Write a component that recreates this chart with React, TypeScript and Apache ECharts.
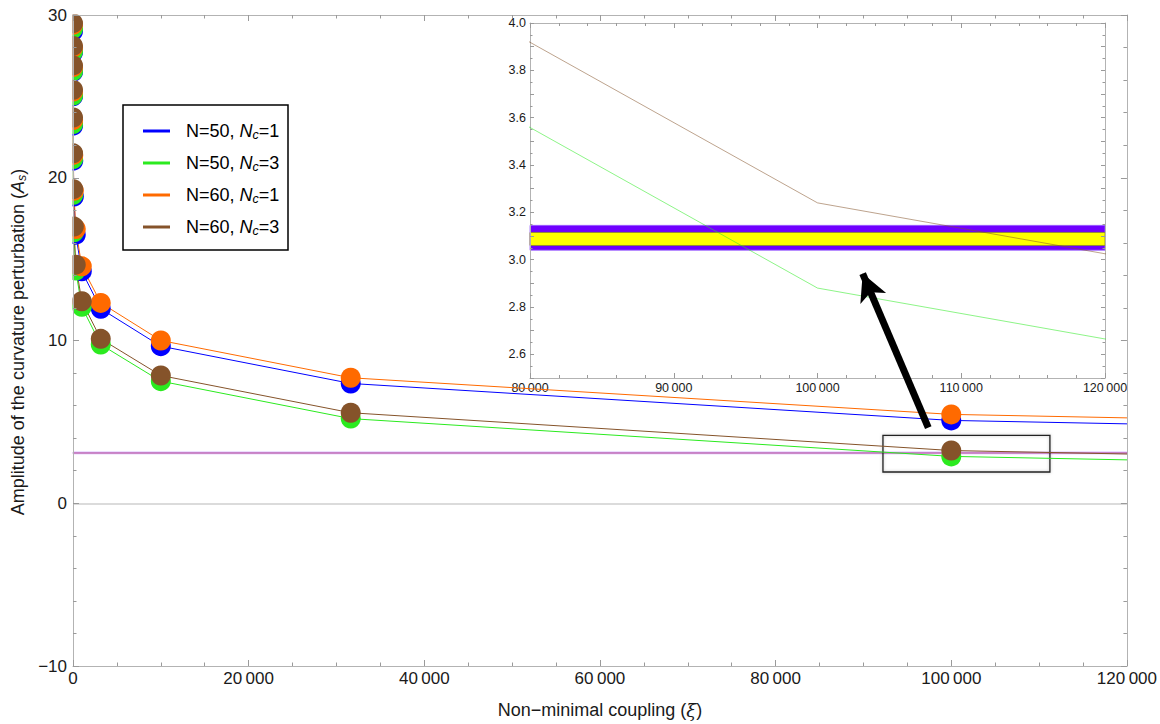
import React, { useEffect, useRef } from 'react';
import * as echarts from 'echarts';

// ---------- data ----------
const xiValues = [0.01, 0.0316, 0.1, 0.316, 1, 3.16, 10, 31.6, 100, 316, 1000, 3162, 10000, 31623, 100000, 316228];
const seriesNames = ['N=50, Nc=1', 'N=50, Nc=3', 'N=60, Nc=1', 'N=60, Nc=3'];
const asN50Nc1 = [31.3, 30.2, 29.0, 27.7, 26.5, 25.0, 23.2, 21.05, 18.85, 16.5, 14.25, 11.95, 9.65, 7.36, 5.09, 2.8];
const asN50Nc3 = [30.3, 29.15, 27.75, 26.55, 25.05, 23.3, 21.15, 18.95, 16.65, 14.3, 12.07, 9.75, 7.5, 5.2, 2.88, 0.555];
const asN60Nc1 = [31.6, 30.5, 29.4, 28.0, 26.8, 25.3, 23.55, 21.4, 19.2, 16.85, 14.56, 12.31, 10.0, 7.71, 5.46, 3.15];
const asN60Nc3 = [30.6, 29.5, 28.1, 26.9, 25.4, 23.7, 21.5, 19.3, 17.0, 14.66, 12.41, 10.1, 7.85, 5.56, 3.24, 0.915];
const seriesColors = ['#0000ff', '#2bea1f', '#ff6a00', '#85532a'];

// observational band for A_s (outer and inner)
const bandOuter = [3.04, 3.145];
const bandInner = [3.06, 3.115];

// axes ranges [min, max, interval]
const mainX = [0, 120000, 20000];
const mainY = [-10, 30, 10];
const insetX = [80000, 120000, 10000];
const insetY = [2.5, 4.0, 0.1];

// annotations in data units of the main plot
const zoomBoxX = [92220, 111230];
const zoomBoxY = [1.92, 4.17];
const arrowFrom = [97380, 4.64];
const arrowTo = [89910, 14.11];

const FONT = 'Liberation Sans, Arial, Helvetica, sans-serif';
const FRAME = '#b3b3b3';
const TICK = '#9a9a9a';

const fmtThousands = (v: number) =>
  String(Math.round(v)).replace(/\B(?=(\d{3})+(?!\d))/g, '\u2009');

const pairs = (ys: number[]) => xiValues.map((x, i) => [x, ys[i]]);

export default function App() {
  const ref = useRef<HTMLDivElement>(null);
  useEffect(() => {
    if (!ref.current) return;
    const chart = echarts.init(ref.current, undefined, { renderer: 'svg' });
    const allValues = [asN50Nc1, asN50Nc3, asN60Nc1, asN60Nc3];

    const frameAxis = (extra: any) => ({
      axisLine: { show: true, onZero: false, lineStyle: { color: FRAME, width: 1 } },
      axisTick: { show: true, inside: true, length: 6, lineStyle: { color: TICK } },
      splitLine: { show: false },
      ...extra,
    });

    const mainSeries = allValues.map((vals, i) => ({
      name: seriesNames[i],
      type: 'line',
      xAxisIndex: 0,
      yAxisIndex: 0,
      data: pairs(vals),
      symbol: 'circle',
      symbolSize: 20,
      showSymbol: true,
      clip: true,
      z: 2,
      lineStyle: { color: seriesColors[i], width: 1 },
      itemStyle: { color: seriesColors[i] },
      emphasis: { disabled: true },
    }));

    const insetSeries = [1, 3].map((i) => ({
      name: 'inset ' + seriesNames[i],
      type: 'line',
      xAxisIndex: 2,
      yAxisIndex: 2,
      data: pairs(allValues[i]),
      symbol: 'none',
      showSymbol: false,
      clip: true,
      z: 2,
      lineStyle: { color: seriesColors[i], width: 0.9, opacity: 0.6 },
      itemStyle: { color: seriesColors[i] },
      emphasis: { disabled: true },
    }));

    const subRich = {
      t: { fontSize: 18, fontFamily: FONT, color: '#000', lineHeight: 20 },
      i: { fontSize: 18, fontFamily: FONT, color: '#000', fontStyle: 'italic', lineHeight: 20 },
      s: { fontSize: 12.5, fontFamily: FONT, color: '#000', fontStyle: 'italic', lineHeight: 12, verticalAlign: 'bottom' },
    };

    const option: any = {
      animation: false,
      backgroundColor: '#fff',
      textStyle: { fontFamily: FONT },
      grid: [
        { left: 73, top: 15, right: 33, bottom: 57, show: false },
        { left: 530, top: 23, right: 55, bottom: 346, show: true, backgroundColor: '#fff', borderWidth: 0, z: 1 },
      ],
      xAxis: [
        frameAxis({
          type: 'value', gridIndex: 0, position: 'bottom', min: mainX[0], max: mainX[1], interval: mainX[2], z: 7,
          minorTick: { show: true, splitNumber: 4, length: 3.5, lineStyle: { color: TICK } },
          axisLabel: { show: true, color: '#1a1a1a', fontSize: 17, fontFamily: FONT, margin: 4, formatter: (v: number) => fmtThousands(v) },
          name: '{t|Non\u2212minimal coupling (}{i|\u03be}{t|)}',
          nameLocation: 'middle',
          nameGap: 35,
          nameTextStyle: {
            rich: {
              t: { fontSize: 18, fontFamily: FONT, color: '#1a1a1a' },
              i: { fontSize: 18, fontFamily: 'DejaVu Serif, serif', fontStyle: 'italic', color: '#1a1a1a' },
            },
          },
        }),
        frameAxis({
          type: 'value', gridIndex: 0, position: 'top', min: mainX[0], max: mainX[1], interval: mainX[2], z: 7,
          minorTick: { show: true, splitNumber: 4, length: 3.5, lineStyle: { color: TICK } },
          axisLabel: { show: false },
        }),
        frameAxis({
          type: 'value', gridIndex: 1, position: 'bottom', min: insetX[0], max: insetX[1], interval: insetX[2], z: 2,
          axisTick: { show: true, inside: true, length: 5, lineStyle: { color: TICK } },
          minorTick: { show: true, splitNumber: 5, length: 3, lineStyle: { color: TICK } },
          axisLabel: { show: true, color: '#1a1a1a', fontSize: 12.5, fontFamily: FONT, margin: 3, formatter: (v: number) => fmtThousands(v) },
        }),
        frameAxis({
          type: 'value', gridIndex: 1, position: 'top', min: insetX[0], max: insetX[1], interval: insetX[2], z: 2,
          axisTick: { show: true, inside: true, length: 5, lineStyle: { color: TICK } },
          minorTick: { show: true, splitNumber: 5, length: 3, lineStyle: { color: TICK } },
          axisLabel: { show: false },
        }),
      ],
      yAxis: [
        frameAxis({
          type: 'value', gridIndex: 0, position: 'left', min: mainY[0], max: mainY[1], interval: mainY[2], z: 7,
          minorTick: { show: true, splitNumber: 5, length: 3.5, lineStyle: { color: TICK } },
          axisLabel: {
            show: true, color: '#1a1a1a', fontSize: 17, fontFamily: FONT, margin: 6,
            formatter: (v: number) => (v < 0 ? '\u2212' + Math.abs(v) : String(v)),
          },
        }),
        frameAxis({
          type: 'value', gridIndex: 0, position: 'right', min: mainY[0], max: mainY[1], interval: mainY[2], z: 7,
          minorTick: { show: true, splitNumber: 5, length: 3.5, lineStyle: { color: TICK } },
          axisLabel: { show: false },
        }),
        frameAxis({
          type: 'value', gridIndex: 1, position: 'left', min: insetY[0], max: insetY[1], interval: insetY[2], z: 2,
          axisTick: { show: true, inside: true, length: 4, lineStyle: { color: TICK } },
          minorTick: { show: true, splitNumber: 2, length: 2.5, lineStyle: { color: TICK } },
          axisLabel: {
            show: true, color: '#1a1a1a', fontSize: 12.5, fontFamily: FONT, margin: 4,
            formatter: (v: number) => (Math.round(v * 10) % 2 === 0 ? v.toFixed(1) : ''),
          },
        }),
        frameAxis({
          type: 'value', gridIndex: 1, position: 'right', min: insetY[0], max: insetY[1], interval: insetY[2], z: 2,
          axisTick: { show: true, inside: true, length: 4, lineStyle: { color: TICK } },
          minorTick: { show: true, splitNumber: 2, length: 2.5, lineStyle: { color: TICK } },
          axisLabel: { show: false },
        }),
      ],
      legend: {
        data: seriesNames,
        orient: 'vertical',
        left: 138,
        top: 117,
        icon: 'rect',
        itemWidth: 27,
        itemHeight: 3,
        itemGap: 13,
        z: 6,
        selectedMode: false,
        formatter: (name: string) => {
          const [a, b] = name.split(', ');
          return `{t|${a}, }{i|N}{s|c}{t|${b.slice(2)}}`;
        },
        textStyle: { padding: [0, 0, 0, 11], rich: subRich },
      },
      graphic: [
        // clip circles that overflow the left frame / top frame
        { type: 'rect', z: 4, silent: true, shape: { x: 55, y: 0, width: 17.5, height: 330 }, style: { fill: '#fff' } },
        { type: 'rect', z: 4, silent: true, shape: { x: 55, y: 0, width: 60, height: 14.5 }, style: { fill: '#fff' } },
        // legend frame
        { type: 'rect', z: 5, silent: true, shape: { x: 123, y: 105, width: 165, height: 145 }, style: { fill: '#fff', stroke: '#000', lineWidth: 1.5 } },
        // y axis title
        {
          type: 'text', z: 5, silent: true, x: 18, y: 342, rotation: Math.PI / 2,
          style: {
            text: '{t|Amplitude of the curvature perturbation (}{i|A}{s|s}{t|)}',
            align: 'center', verticalAlign: 'middle',
            rich: {
              t: { fontSize: 18, fontFamily: FONT, fill: '#1a1a1a', lineHeight: 20 },
              i: { fontSize: 18, fontFamily: FONT, fontStyle: 'italic', fill: '#1a1a1a', lineHeight: 20 },
              s: { fontSize: 12.5, fontFamily: FONT, fontStyle: 'italic', fill: '#1a1a1a', lineHeight: 12, verticalAlign: 'bottom' },
            },
          },
        },
      ],
      series: [
        // main plot: zero line and observational band
        {
          name: 'main band', type: 'line', xAxisIndex: 0, yAxisIndex: 0, data: [], z: 1, silent: true,
          markLine: {
            silent: true, symbol: 'none', label: { show: false },
            lineStyle: { color: '#cfcfcf', width: 1.5, type: 'solid' },
            data: [{ yAxis: 0 }],
          },
          markArea: {
            silent: true,
            data: [
              [{ yAxis: bandOuter[0], itemStyle: { color: 'rgba(112,0,255,0.38)', borderColor: 'rgba(112,0,255,0.3)', borderWidth: 1 } }, { yAxis: bandOuter[1] }],
              [{ yAxis: bandInner[0], itemStyle: { color: 'rgba(255,255,0,0.2)', borderColor: 'rgba(230,90,110,0.3)', borderWidth: 0.8 } }, { yAxis: bandInner[1] }],
            ],
          },
        },
        ...mainSeries,
        // inset band
        {
          name: 'inset band', type: 'line', xAxisIndex: 2, yAxisIndex: 2, data: [], z: 1, silent: true,
          markArea: {
            silent: true,
            data: [
              [{ yAxis: bandOuter[0], itemStyle: { color: '#7000ff', borderColor: '#9a66ff', borderWidth: 0.8 } }, { yAxis: bandOuter[1] }],
              [{ yAxis: bandInner[0], itemStyle: { color: '#ffff00', borderColor: '#8c8a2a', borderWidth: 0.8 } }, { yAxis: bandInner[1] }],
            ],
          },
        },
        ...insetSeries,
        // zoom box and arrow
        {
          name: 'annotations', type: 'line', xAxisIndex: 0, yAxisIndex: 0, data: [], z: 3, silent: true,
          markArea: {
            silent: true,
            data: [[
              { coord: [zoomBoxX[0], zoomBoxY[1]], itemStyle: { color: 'rgba(0,0,0,0)', borderColor: '#222', borderWidth: 1.3, shadowBlur: 3, shadowColor: 'rgba(0,0,0,0.25)' } },
              { coord: [zoomBoxX[1], zoomBoxY[0]] },
            ]],
          },
          markLine: {
            silent: true,
            symbol: ['none', 'arrow'],
            symbolSize: [21, 27],
            label: { show: false },
            lineStyle: { color: '#000', width: 7, type: 'solid', cap: 'butt' },
            data: [[{ coord: arrowFrom }, { coord: arrowTo }]],
          },
        },
      ],
    };

    chart.setOption(option);
    return () => chart.dispose();
  }, []);

  return (
    <div
      ref={ref}
      style={{ position: 'fixed', left: 0, top: 0, width: 1160, height: 724, background: '#fff' }}
    />
  );
}
